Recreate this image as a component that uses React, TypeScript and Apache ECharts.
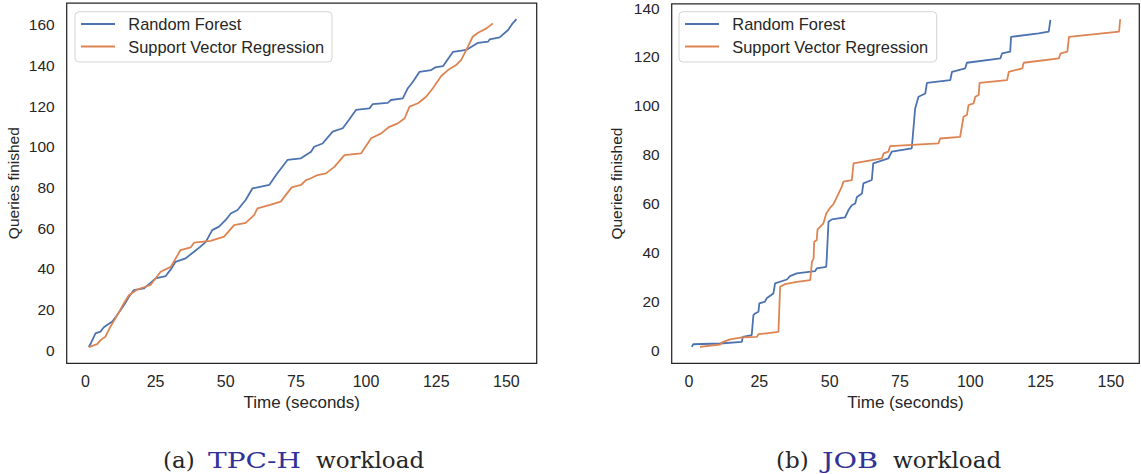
import React, { useEffect, useRef } from "react";
import * as echarts from "echarts";

// ---------- data ----------
const seriesNames = ["Random Forest", "Support Vector Regression"];

const xTicks = [0, 25, 50, 75, 100, 125, 150];
const yTicksTpch = [0, 20, 40, 60, 80, 100, 120, 140, 160];
const yTicksJob = [0, 20, 40, 60, 80, 100, 120, 140];

// TPC-H, Random Forest: [time, queries finished]
const rfTpch: number[][] = [
  [1.2, 1.5], [2, 3.5], [3.6, 8.2], [5.4, 9.1], [6.5, 11.1], [7.7, 12.3], [9.5, 13.9],
  [11, 16.6], [12.5, 19.6], [14, 22.7], [15.5, 26.2], [17.3, 29.5], [20.8, 30.3],
  [23, 32.8], [25, 35.3], [28.6, 36.4], [30.5, 39.8], [32.1, 43.4], [35.7, 45.1],
  [38.7, 48.4], [41, 50.9], [42.9, 53.2], [45.2, 59], [47.6, 60.7], [50, 64],
  [51.8, 67.2], [54.2, 68.9], [57.1, 73.8], [59.5, 79.5], [65.5, 81.2], [68, 86.2],
  [72, 93.5], [76.8, 94.3], [80.4, 97.5], [81.5, 100], [84.5, 101.6], [88.1, 107.4],
  [91.7, 109.1], [94, 113.4], [96.4, 118.1], [101.2, 118.9], [102.4, 121],
  [107.7, 121.6], [108.9, 123], [113.1, 123.8], [114.9, 128.8], [116.7, 132],
  [119, 136.8], [123.2, 137.7], [124.6, 139], [127.4, 139.6], [131, 146.7],
  [135.7, 147.6], [139.9, 151.1], [143.5, 151.7], [144, 152.8], [147.6, 153.8],
  [150.6, 157.4], [152, 160.3], [153.6, 162.8],
];

// TPC-H, Support Vector Regression
const svrTpch: number[][] = [
  [1.2, 1.5], [4.2, 2.9], [5.4, 4.9], [7.1, 6.5], [8.9, 11.5], [10.7, 15.6],
  [13.7, 23], [15.5, 27], [18.5, 29.8], [23.2, 32], [26.8, 38.5], [30.4, 40.9],
  [33.9, 49.2], [37.5, 50.5], [38.7, 52.8], [44.6, 53.7], [49.4, 55.8], [53, 61.5],
  [57.1, 62.6], [60.1, 66.4], [61.3, 69.7], [65.5, 71.3], [69.6, 73], [73.5, 80],
  [76.8, 81.2], [78.6, 83.6], [80.4, 84.5], [82.7, 86.1], [85.7, 86.9], [88.7, 90.1],
  [92.3, 95.9], [98.2, 96.7], [101.8, 104.2], [105.4, 106.6], [108.3, 109.8],
  [111.3, 111.5], [113.7, 113.9], [115.5, 119.7], [118.5, 121.4], [121.4, 124.6],
  [123.8, 128.8], [126.8, 134.8], [129.2, 137.7], [132.1, 140.2], [133.9, 142.7],
  [136.3, 149.2], [138, 154.1], [139.9, 156.1], [142.9, 158.2], [145.2, 160.7],
];

// JOB, Random Forest
const rfJob: number[][] = [
  [1, 1.3], [1.5, 2.4], [11, 2.7], [18.8, 3.4], [19.1, 5.4], [22.3, 6.1], [22.9, 14.3],
  [23.5, 15], [24.7, 15.7], [25, 19.1], [27, 19.8], [27.6, 21.2], [30, 23.2],
  [30.6, 27.3], [34.8, 28.9], [35.9, 30.3], [38.3, 31.4], [44.8, 32.3], [45.4, 33.4],
  [48.8, 34.1], [49, 38.2], [49.6, 52.5], [50.8, 53.5], [55.5, 54.3], [56.7, 57.3],
  [57.9, 59.3], [59.1, 60], [59.7, 62.7], [61.5, 64.1], [62, 68.2], [65, 69.6],
  [65.5, 76.4], [70.9, 78.5], [72.1, 81.2], [79.2, 82.6], [79.8, 90.7], [80.4, 98.9],
  [81.6, 103.7], [84, 105], [84.6, 109.4], [92.9, 110.5], [93.5, 113.9], [98.2, 115.3],
  [98.8, 117.6], [110.7, 119.4], [111.3, 121.4], [114.2, 122.1], [114.5, 128.2],
  [124.3, 129.6], [127.9, 130.3], [128.5, 135.1],
];

// JOB, Support Vector Regression
const svrJob: number[][] = [
  [3.9, 1.3], [11, 2.3], [12.2, 3.4], [14.6, 4.4], [18.8, 5.2], [24.1, 5.4], [24.7, 6.5],
  [31.8, 7.5], [32.4, 25.9], [34.2, 27], [38.3, 27.9], [43.1, 28.6], [43.7, 36.1],
  [44.3, 37.5], [44.5, 44.3], [45.4, 45], [45.7, 49.4], [47.8, 51.9], [48.8, 55.9],
  [50, 58], [51.4, 59.8], [52.6, 62.7], [54.3, 66.8], [54.9, 68.9], [57.9, 69.6],
  [58.5, 76.4], [68.6, 78.5], [69.2, 80.5], [70.9, 81.2], [71.5, 83.5], [88.7, 84.6],
  [89.3, 86.6], [96.4, 87.3], [97, 91.4], [97.6, 95.5], [98.8, 96.2], [99.4, 100.3],
  [101.2, 101], [101.8, 103.7], [103, 104.4], [103.3, 109.4], [113.1, 110.5],
  [113.7, 113.9], [118.5, 115.3], [119, 117.6], [131.5, 119.4], [132.1, 121.4],
  [134.5, 122.1], [135.1, 128.2], [152.9, 130.3], [153.3, 135.4],
];

const xName = "Time (seconds)";
const yName = "Queries finished";

// ---------- styling ----------
const BLUE = "#4c72b0";
const ORANGE = "#dd8452";
const INK = "#262626";
const SANS = "'Liberation Sans', Arial, Helvetica, sans-serif";
const SERIF = "'DejaVu Serif', serif";
const CAP_BLUE = "#323296";

function xAxisCfg(gridIndex: number, min: number, max: number) {
  return {
    type: "value",
    gridIndex,
    min,
    max,
    name: xName,
    nameLocation: "middle",
    nameGap: 30,
    nameTextStyle: { color: INK, fontSize: 17, fontFamily: SANS },
    axisLine: { show: false },
    axisTick: { show: false },
    splitLine: { show: false },
    axisLabel: {
      customValues: xTicks,
      color: INK,
      fontSize: 16,
      fontFamily: SANS,
      margin: 10,
    },
  };
}

function yAxisCfg(gridIndex: number, min: number, max: number, ticks: number[], gap: number) {
  return {
    type: "value",
    gridIndex,
    min,
    max,
    name: yName,
    nameLocation: "middle",
    nameGap: gap,
    nameTextStyle: { color: INK, fontSize: 15.5, fontFamily: SANS },
    axisLine: { show: false },
    axisTick: { show: false },
    splitLine: { show: false },
    axisLabel: {
      customValues: ticks,
      color: INK,
      fontSize: 15.5,
      fontFamily: SANS,
      margin: 12,
    },
  };
}

function lineSeries(name: string, data: number[][], color: string, idx: number) {
  return {
    type: "line",
    name,
    data,
    xAxisIndex: idx,
    yAxisIndex: idx,
    symbol: "none",
    showSymbol: false,
    lineStyle: { color, width: 1.8 },
    itemStyle: { color },
    z: 2,
  };
}

function legendGraphic(boxX: number, boxW: number, lineX: number, textX: number) {
  const rows = [
    { y: 24, color: BLUE, label: seriesNames[0] },
    { y: 46.5, color: ORANGE, label: seriesNames[1] },
  ];
  const children: any[] = [
    {
      type: "rect",
      shape: { x: boxX, y: 11.7, width: boxW, height: 50.3, r: 4 },
      style: { fill: "#ffffff", stroke: "#d4d4d4", lineWidth: 1 },
    },
  ];
  rows.forEach((r) => {
    children.push({
      type: "line",
      shape: { x1: lineX, y1: r.y, x2: lineX + 34, y2: r.y },
      style: { stroke: r.color, lineWidth: 1.8 },
    });
    children.push({
      type: "text",
      x: textX,
      y: r.y,
      style: {
        text: r.label,
        fill: INK,
        fontSize: 16.4,
        fontFamily: SANS,
        align: "left",
        verticalAlign: "middle",
      },
    });
  });
  return { type: "group", z: 100, children };
}

function captionGraphic(parts: { text: string; x: number; color: string; sx: number }[]) {
  return {
    type: "group",
    z: 100,
    children: parts.map((p) => ({
      type: "text",
      x: p.x,
      y: 460,
      scaleX: p.sx,
      style: {
        text: p.text,
        fill: p.color,
        fontSize: 23,
        fontFamily: SERIF,
        align: "left",
        verticalAlign: "middle",
      },
    })),
  };
}

export default function App() {
  const ref = useRef<HTMLDivElement>(null);

  useEffect(() => {
    if (!ref.current) return;
    const chart = echarts.init(ref.current, null, { renderer: "svg" });
    const option: any = {
      animation: false,
      backgroundColor: "#ffffff",
      grid: [
        {
          left: 66.7,
          top: 3,
          width: 470,
          height: 360.3,
          show: true,
          borderColor: INK,
          borderWidth: 1.25,
          backgroundColor: "transparent",
        },
        {
          left: 671.7,
          top: 3,
          width: 467.6,
          height: 360.3,
          show: true,
          borderColor: INK,
          borderWidth: 1.25,
          backgroundColor: "transparent",
        },
      ],
      xAxis: [xAxisCfg(0, -6.66, 160.8), xAxisCfg(1, -6.15, 160.1)],
      yAxis: [
        yAxisCfg(0, -6.5, 170.7, yTicksTpch, 45),
        yAxisCfg(1, -5.4, 141.7, yTicksJob, 47),
      ],
      series: [
        lineSeries(seriesNames[0], rfTpch, BLUE, 0),
        lineSeries(seriesNames[1], svrTpch, ORANGE, 0),
        lineSeries(seriesNames[0], rfJob, BLUE, 1),
        lineSeries(seriesNames[1], svrJob, ORANGE, 1),
      ],
      graphic: [
        legendGraphic(75, 257, 81, 128.3),
        legendGraphic(679, 257.7, 685, 732.3),
        captionGraphic([
          { text: "(a)", x: 163, color: INK, sx: 1 },
          { text: "TPC-H", x: 208, color: CAP_BLUE, sx: 1.22 },
          { text: "workload", x: 316, color: INK, sx: 1 },
        ]),
        captionGraphic([
          { text: "(b)", x: 776, color: INK, sx: 1 },
          { text: "JOB", x: 822, color: CAP_BLUE, sx: 1.25 },
          { text: "workload", x: 893, color: INK, sx: 1 },
        ]),
      ],
    };
    chart.setOption(option);
    return () => chart.dispose();
  }, []);

  return (
    <div
      ref={ref}
      style={{ position: "absolute", left: 0, top: 0, width: 1141, height: 474 }}
    />
  );
}
